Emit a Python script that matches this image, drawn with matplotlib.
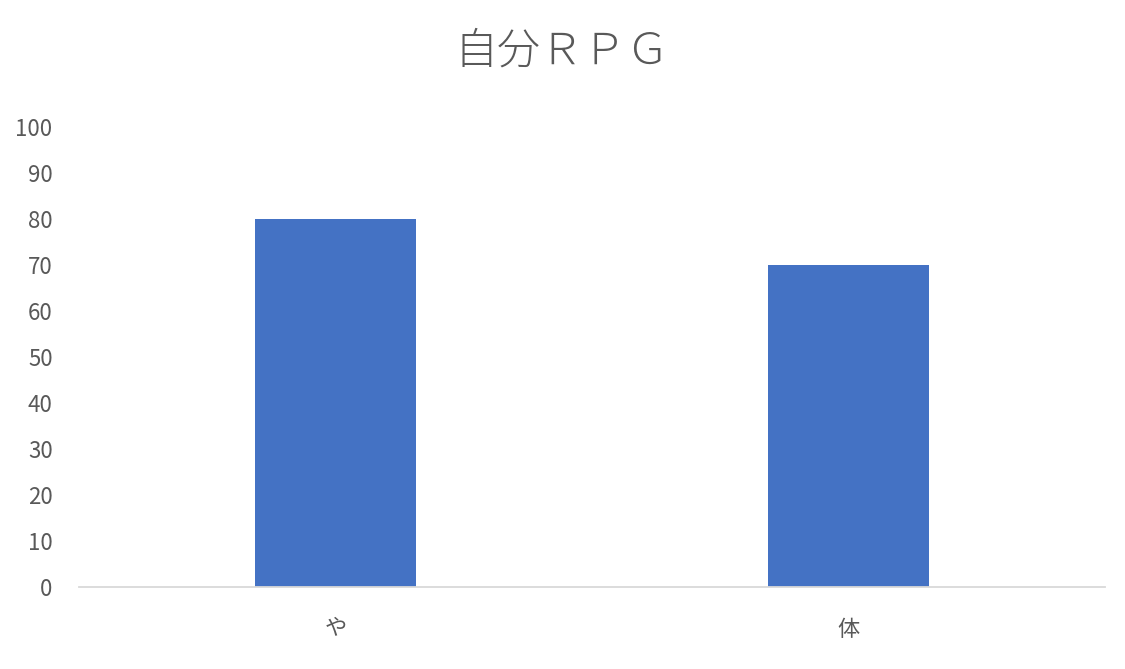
import matplotlib
matplotlib.use("Agg")
import matplotlib.pyplot as plt

categories = ["や", "体"]
values = [80, 70]
yticks = [0, 10, 20, 30, 40, 50, 60, 70, 80, 90, 100]
title = "自分ＲＰＧ"

plt.rcParams['font.family'] = ['Noto Sans CJK JP', 'DejaVu Sans']

fig = plt.figure(figsize=(11.25, 6.69), dpi=100)
ax = fig.add_axes([79/1125, 1-587/669, (1105-79)/1125, (587-127)/669])
x = list(range(len(categories)))
ax.bar(x, values, width=0.312, color="#4472C4", zorder=2)
ax.set_xlim(-0.5, len(categories)-0.5)
ax.set_ylim(0, 100)
ax.set_yticks(yticks)
ax.set_yticklabels([str(t) for t in yticks])
ax.set_xticks(x)
ax.set_xticklabels(categories)
for s in ["top", "right", "left"]:
    ax.spines[s].set_visible(False)
ax.spines["bottom"].set_color("#D9D9D9")
ax.spines["bottom"].set_linewidth(1.3)
ax.tick_params(axis="both", length=0, colors="#595959", labelsize=16)
ax.tick_params(axis="y", pad=19)
ax.tick_params(axis="x", pad=22)
fig.text(0.5, 1-51/669, title, ha="center", va="center", fontsize=31,
         color="#595959", fontweight="light")
fig.savefig("out.png", dpi=100, facecolor="white")
